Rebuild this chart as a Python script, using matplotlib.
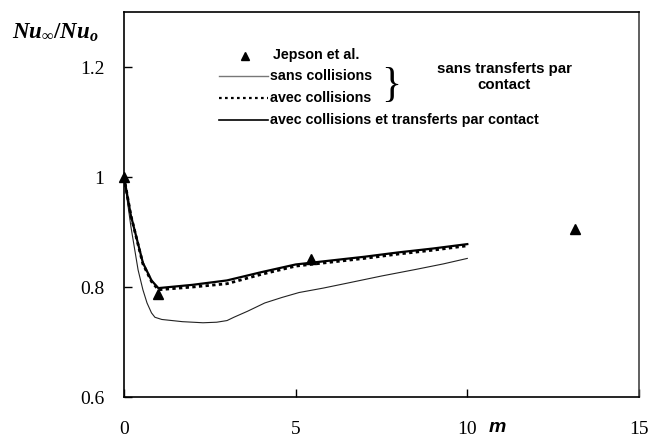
import matplotlib
matplotlib.use("Agg")
import matplotlib.pyplot as plt

plt.rcParams['mathtext.fontset'] = 'custom'
plt.rcParams['mathtext.it'] = 'Liberation Serif:italic:bold'
plt.rcParams['mathtext.rm'] = 'Liberation Serif:bold'

# experimental points (Jepson et al.)
jepson_m = [0.0, 1.0, 5.45, 13.15]
jepson_nu = [1.0, 0.788, 0.851, 0.906]

# sans collisions, sans transferts par contact
sans_m = [0.0, 0.2, 0.41, 0.55, 0.67, 0.8, 0.9, 1.1, 1.7, 2.3, 2.7, 3.0, 3.2, 3.6, 4.1, 4.6, 5.1, 5.8, 6.5, 7.5, 8.5, 9.3, 10.0]
sans_nu = [1.0, 0.91, 0.831, 0.795, 0.771, 0.753, 0.745, 0.741, 0.737, 0.735, 0.736, 0.739, 0.745, 0.756, 0.771, 0.781, 0.79, 0.798, 0.807, 0.82, 0.832, 0.842, 0.852]

# avec collisions, sans transferts par contact
coll_m = [0.0, 0.2, 0.55, 0.8, 1.0, 2.0, 3.0, 4.0, 5.0, 6.0, 7.0, 8.0, 9.0, 10.0]
coll_nu = [1.0, 0.93, 0.842, 0.81, 0.795, 0.8, 0.806, 0.823, 0.838, 0.845, 0.852, 0.86, 0.867, 0.875]

# avec collisions et transferts par contact
tr_m = [0.0, 0.2, 0.55, 0.8, 1.0, 2.0, 3.0, 4.0, 5.0, 6.0, 7.0, 8.0, 9.0, 10.0]
tr_nu = [1.0, 0.93, 0.844, 0.812, 0.798, 0.804, 0.812, 0.827, 0.841, 0.848, 0.855, 0.863, 0.87, 0.878]

fig = plt.figure(figsize=(6.5, 4.37), dpi=100)
ax = fig.add_axes([0.1908, 0.0915, 0.7922, 0.881])

ax.plot(sans_m, sans_nu, color='#222222', lw=0.8)
ax.plot(coll_m, coll_nu, color='black', lw=2.0, ls=(0, (1.2, 1.2)))
ax.plot(tr_m, tr_nu, color='black', lw=1.6)
ax.plot(jepson_m, jepson_nu, ls='none', marker='^', color='black', ms=7, clip_on=False)

ax.set_xlim(0, 15)
ax.set_ylim(0.6, 1.3)
ax.set_xticks([0, 5, 10, 15])
ax.set_xticklabels(['0', '5', '10', '15'])
ax.set_yticks([0.6, 0.8, 1.0, 1.2])
ax.set_yticklabels(['0.6', '0.8', '1', '1.2'])
ax.tick_params(direction='in', length=6, width=1, labelsize=14)
ax.tick_params(axis='x', pad=17)
ax.tick_params(axis='y', pad=14)
for lab in ax.get_xticklabels() + ax.get_yticklabels():
    lab.set_fontfamily('Liberation Serif')
for s in ax.spines.values():
    s.set_linewidth(1.2)
ax.spines['right'].set_color('#444444')

# y label at top-left
fig.text(12 / 650, 1 - 33 / 437, r'$Nu_{\infty}/Nu_o$', fontsize=16.5, va='center', ha='left')
# x label
fig.text(497 / 650, 1 - 427 / 437, 'm', fontsize=14, fontweight='bold', style='italic',
         family='Liberation Sans', va='center', ha='center')

# hand-made legend
lf = dict(fontsize=10.3, fontweight='bold', family='Liberation Sans', va='center', ha='left')
ax.plot([3.52], [1.22], ls='none', marker='^', color='black', ms=6)
ax.text(4.35, 1.222, 'Jepson et al.', **lf)
ax.plot([2.78, 4.2], [1.183, 1.183], color='#777777', lw=1.0)
ax.text(4.25, 1.183, 'sans collisions', **lf)
ax.plot([2.78, 4.2], [1.143, 1.143], color='black', lw=1.6, ls=(0, (1.2, 1.5)))
ax.text(4.25, 1.143, 'avec collisions', **lf)
ax.plot([2.78, 4.2], [1.104, 1.104], color='black', lw=1.2)
ax.text(4.25, 1.104, 'avec collisions et transferts par contact', **lf)
ax.text(7.77, 1.166, '}', fontsize=30, family='Liberation Serif', va='center', ha='center')
ax.text(11.07, 1.182, 'sans transferts par\ncontact', fontsize=10.8, fontweight='bold',
        family='Liberation Sans', va='center', ha='center', linespacing=1.2)

fig.savefig('out.png', dpi=100)
